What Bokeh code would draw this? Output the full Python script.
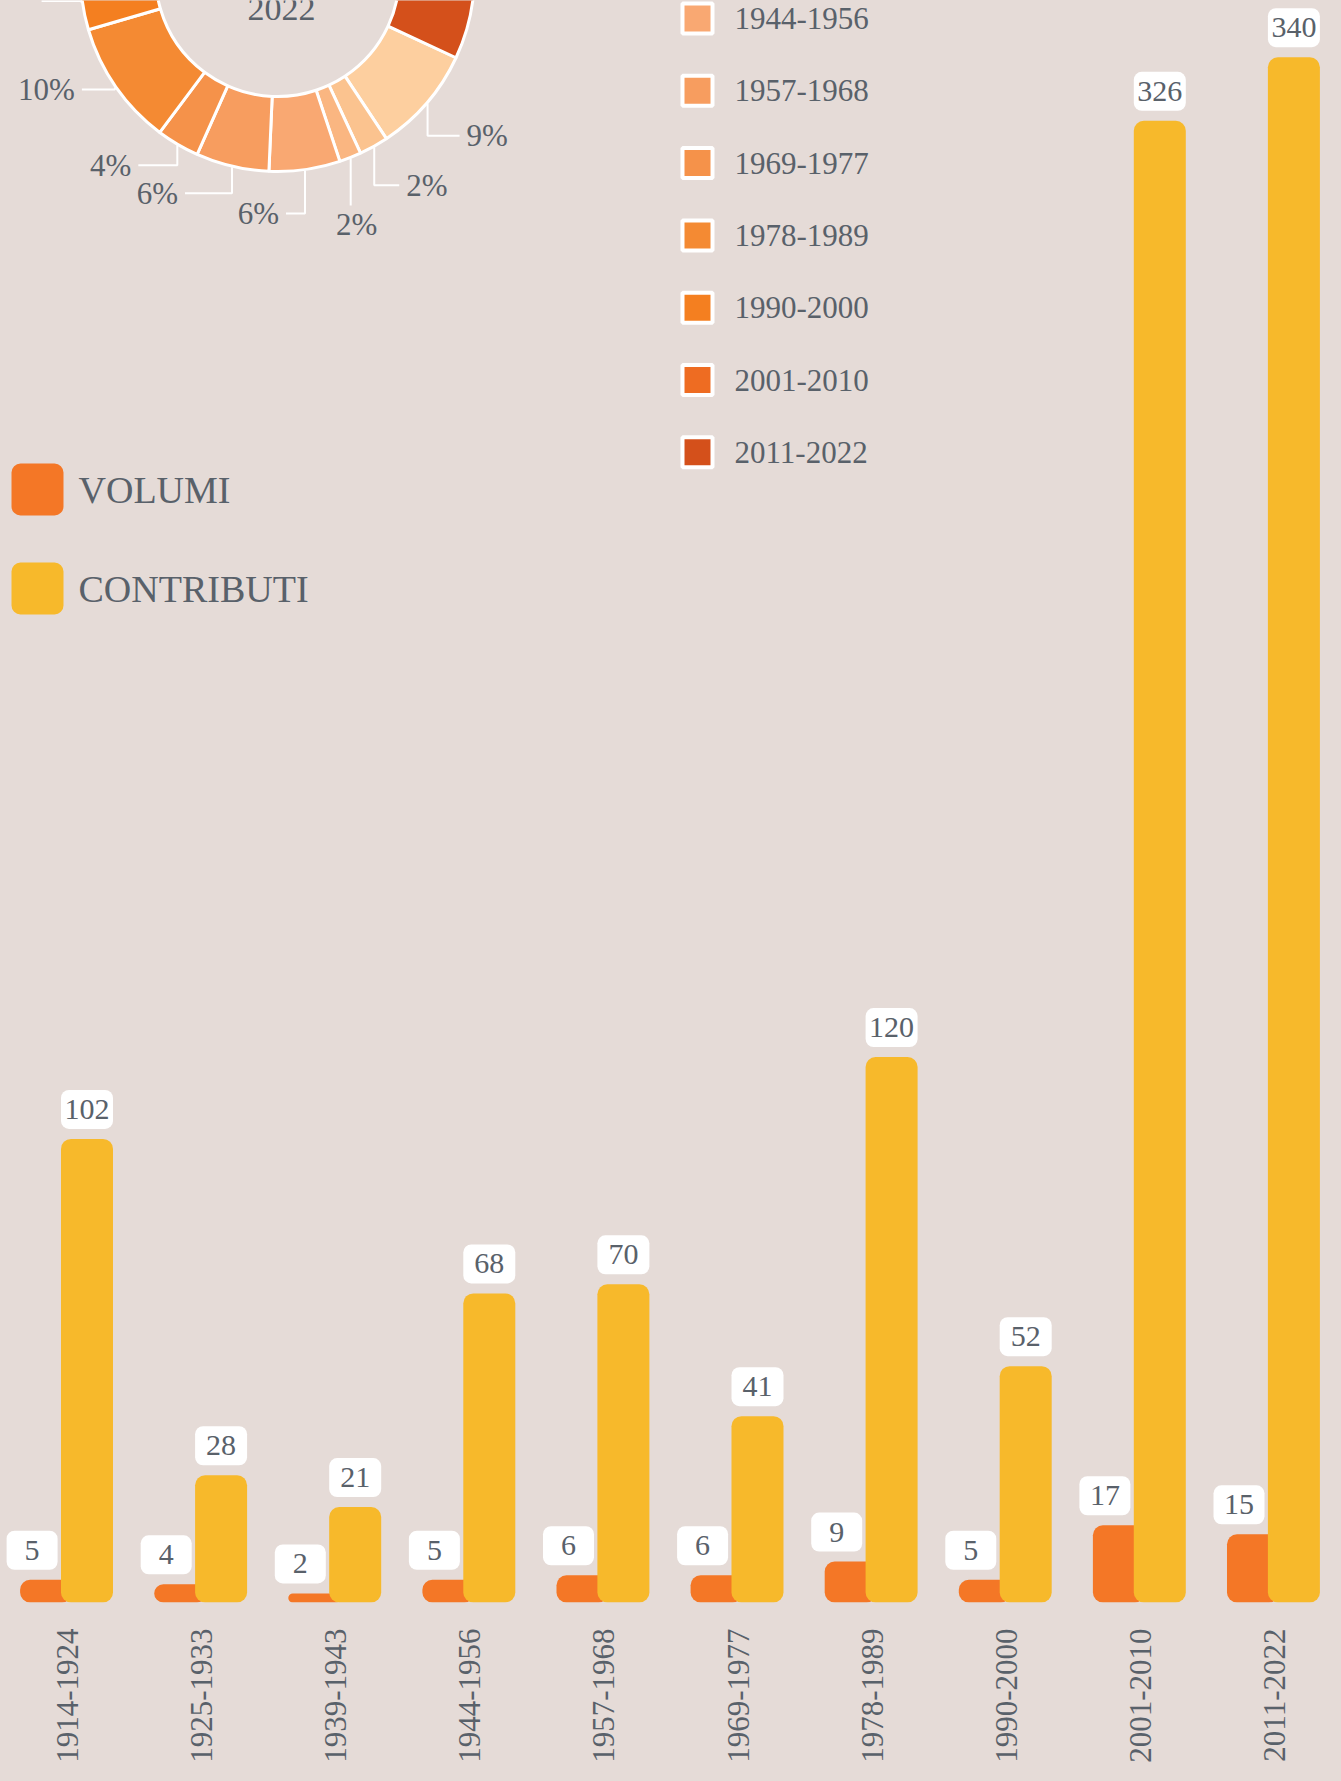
import math
from bokeh.plotting import figure
from bokeh.models import (ColumnDataSource, Range1d, FixedTicker,
                          GlobalInlineStyleSheet)
from bokeh.transform import dodge
from bokeh.core.properties import value
from bokeh.embed import file_html
from bokeh.resources import INLINE

# ---------------- data ----------------
periods = ["1914-1924", "1925-1933", "1939-1943", "1944-1956", "1957-1968",
           "1969-1977", "1978-1989", "1990-2000", "2001-2010", "2011-2022"]
volumi = [5, 4, 2, 5, 6, 6, 9, 5, 17, 15]
contributi = [102, 28, 21, 68, 70, 41, 120, 52, 326, 340]
series_names = ["VOLUMI", "CONTRIBUTI"]
period_colors = ["#fdcf9f", "#fbc38f", "#fab681", "#f9a872", "#f79d5f",
                 "#f5924a", "#f48a33", "#f47f20", "#ee6c22", "#d4501b"]

# ---------------- style / layout ----------------
BG = "#e5dbd7"
TXT = "#59616a"
C_VOL = "#f47726"
C_CON = "#f7b92b"
FONT = "Liberation Serif"
W, H = 1341, 1781
BASE = 1602                 # pixel row of the bar baseline
PX = 4.545                  # pixels per unit of value
N = len(periods)
CAT_PX = W / N              # pixels per category
BAR_W = 52 / CAT_PX
OFF_VOL = -0.16
OFF_CON = 0.145
OFF_VLAB = OFF_VOL - 14 / CAT_PX
GAP = 10 / PX
BOX_H = 39 / PX

xr = Range1d(0, N)
p = figure(width=W, height=H,
           x_range=xr, y_range=Range1d(0, BASE / PX),
           x_axis_location="below", y_axis_location=None,
           output_backend="svg", toolbar_location=None,
           min_border=0, min_border_bottom=H - BASE,
           background_fill_color=BG, border_fill_color=BG,
           outline_line_color=None)
p.extra_x_ranges = {"px": Range1d(0, W)}
p.extra_y_ranges = {"px": Range1d(BASE, 0)}
p.grid.grid_line_color = None
p.stylesheets = [GlobalInlineStyleSheet(
    css="html,body{margin:0;padding:0;background:%s;overflow:hidden;}" % BG)]

# ---------------- bars ----------------
centers = [i + 0.5 for i in range(N)]
src = ColumnDataSource(dict(
    xc=centers, period=periods, volumi=volumi, contributi=contributi,
    vol_lab=[str(v) for v in volumi], con_lab=[str(v) for v in contributi],
    vb_bot=[v + GAP for v in volumi], vb_top=[v + GAP + BOX_H for v in volumi],
    vb_mid=[v + GAP + BOX_H / 2 for v in volumi],
    cb_bot=[v + GAP for v in contributi], cb_top=[v + GAP + BOX_H for v in contributi],
    cb_mid=[v + GAP + BOX_H / 2 for v in contributi],
))

p.vbar(x=dodge("xc", OFF_VOL), top="volumi", bottom=0,
       width=BAR_W, fill_color=C_VOL, line_color=None, border_radius=10, source=src)
p.vbar(x=dodge("xc", OFF_CON), top="contributi", bottom=0,
       width=BAR_W, fill_color=C_CON, line_color=None, border_radius=10, source=src)

# value boxes
p.vbar(x=dodge("xc", OFF_VLAB), top="vb_top", bottom="vb_bot",
       width=51 / CAT_PX, fill_color="white", line_color=None, border_radius=8, source=src)
p.vbar(x=dodge("xc", OFF_CON), top="cb_top", bottom="cb_bot",
       width=BAR_W, fill_color="white", line_color=None, border_radius=8, source=src)
p.text(x=dodge("xc", OFF_VLAB), y="vb_mid", text="vol_lab",
       text_align="center", text_baseline="middle", text_font=value(FONT),
       text_font_size="30px", text_color=TXT, source=src)
p.text(x=dodge("xc", OFF_CON), y="cb_mid", text="con_lab",
       text_align="center", text_baseline="middle", text_font=value(FONT),
       text_font_size="30px", text_color=TXT, source=src)

# x axis with period labels
ax = p.xaxis[0]
ax.ticker = FixedTicker(ticks=centers)
ax.major_label_overrides = {c: lab for c, lab in zip(centers, periods)}
ax.axis_line_color = None
ax.major_tick_line_color = None
ax.minor_tick_line_color = None
ax.major_label_orientation = math.pi / 2
ax.major_label_text_font = FONT
ax.major_label_text_font_size = "31px"
ax.major_label_text_color = TXT
ax.major_label_standoff = 20

# ---------------- donut (share of contributi) ----------------
CX, CY = 277, -26
R_IN, R_OUT = 122, 197
START = 25.0
total = sum(contributi)
cum = [0]
for c in contributi:
    cum.append(cum[-1] + c)
s_deg = [START + 360 * cum[i] / total for i in range(N)]
e_deg = [START + 360 * cum[i + 1] / total for i in range(N)]
p.annular_wedge(x=CX, y=CY, inner_radius=R_IN, outer_radius=R_OUT,
                inner_radius_units="screen", outer_radius_units="screen",
                start_angle=[-math.radians(a) for a in s_deg],
                end_angle=[-math.radians(a) for a in e_deg],
                direction="clock", fill_color=period_colors,
                line_color="white", line_width=3,
                x_range_name="px", y_range_name="px")

p.text(x=[CX + 4], y=[8], text=["2022"], text_align="center",
       text_baseline="alphabetic", text_font=value(FONT), text_font_size="34px",
       text_color=TXT, x_range_name="px", y_range_name="px")

# leaders + percentage labels
lead_drop = [32, 38, 47, 43, 26, 20, 2, -2, 0, 0]
lead_run = [32, 25, 0, -19, -47, -39, -33, -40, 0, 0]
pct = ["%d%%" % round(100 * c / total) for c in contributi]
lx, ly, tx, ty, tt, ta, tb = [], [], [], [], [], [], []
for i in range(N):
    mid = math.radians((s_deg[i] + e_deg[i]) / 2)
    x0 = CX + (R_OUT + 1) * math.cos(mid)
    y0 = CY + (R_OUT + 1) * math.sin(mid)
    if y0 < -5:
        continue
    y1 = y0 + lead_drop[i]
    x2 = x0 + lead_run[i]
    lx.append([x0, x0, x2])
    ly.append([y0, y1, y1])
    if lead_run[i] > 0:
        tx.append(x2 + 7); ty.append(y1); ta.append("left"); tb.append("middle")
    elif lead_run[i] < 0:
        tx.append(x2 - 7); ty.append(y1); ta.append("right"); tb.append("middle")
    else:
        tx.append(x0 + 6); ty.append(y1 + 2); ta.append("center"); tb.append("top")
    tt.append(pct[i])
p.multi_line(xs=lx, ys=ly, line_color="white", line_width=2,
             x_range_name="px", y_range_name="px")
keep = [k for k in range(len(tt)) if ty[k] > 20]
p.text(x=[tx[k] for k in keep], y=[ty[k] for k in keep], text=[tt[k] for k in keep],
       text_align=[ta[k] for k in keep], text_baseline=[tb[k] for k in keep],
       text_font=value(FONT), text_font_size="31px", text_color=TXT,
       x_range_name="px", y_range_name="px")

# ---------------- period legend ----------------
LEG_X, LEG_TX = 697, 734
LEG_STEP = 72.3
LEG_Y0 = 18 - 3 * LEG_STEP
lg = [(periods[i], period_colors[i], LEG_Y0 + i * LEG_STEP)
      for i in range(N) if LEG_Y0 + i * LEG_STEP > -10]
p.rect(x=LEG_X, y=[g[2] for g in lg], width=30, height=30,
       width_units="screen", height_units="screen",
       fill_color=[g[1] for g in lg], line_color="white", line_width=4,
       x_range_name="px", y_range_name="px")
p.text(x=LEG_TX, y=[g[2] for g in lg], text=[g[0] for g in lg],
       text_align="left", text_baseline="middle", text_font=value(FONT),
       text_font_size="31px", text_color=TXT,
       x_range_name="px", y_range_name="px")

# ---------------- series legend ----------------
SL_Y = [489, 588]
p.quad(left=11, right=63, top=[y - 26 for y in SL_Y], bottom=[y + 26 for y in SL_Y],
       fill_color=[C_VOL, C_CON], line_color=None, border_radius=9,
       x_range_name="px", y_range_name="px")
p.text(x=78, y=SL_Y, text=series_names, text_align="left", text_baseline="middle",
       text_font=value(FONT), text_font_size="38px", text_color=TXT,
       x_range_name="px", y_range_name="px")

open("out.html", "w").write(file_html(p, INLINE))
